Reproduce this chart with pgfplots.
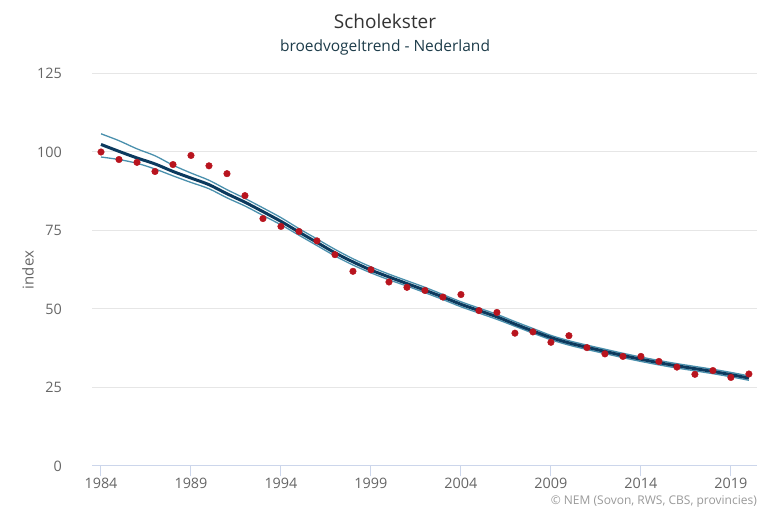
\documentclass[border=0pt]{standalone}
\usepackage{fontspec}
\setmainfont{Open Sans}
\usepackage{pgfplots}
\usepackage{pgfplotstable}
\pgfplotsset{compat=1.18}
\definecolor{pointred}{HTML}{B8141E}
\definecolor{trendblue}{HTML}{0C3A5E}
\definecolor{cicol}{HTML}{4A90AD}
\definecolor{gridgray}{HTML}{E6E6E6}
\definecolor{axiscol}{HTML}{CCD6EB}
\definecolor{labgray}{HTML}{666666}
\definecolor{credgray}{HTML}{999999}
\definecolor{subcol}{HTML}{1D3C4A}
\definecolor{titlecol}{HTML}{333333}

\pgfplotstableread{
year idx
1984 100.0
1985 97.6
1986 96.7
1987 93.8
1988 96.0
1989 98.9
1990 95.6
1991 93.1
1992 86.1
1993 78.8
1994 76.3
1995 74.7
1996 71.7
1997 67.3
1998 62.0
1999 62.5
2000 58.6
2001 56.9
2002 55.9
2003 53.8
2004 54.6
2005 49.5
2006 48.9
2007 42.3
2008 42.7
2009 39.4
2010 41.5
2011 37.7
2012 35.7
2013 34.9
2014 34.9
2015 33.3
2016 31.5
2017 29.2
2018 30.4
2019 28.2
2020 29.3
}\points

\pgfplotstableread{
year trend upper lower
1984 102.4 105.8 98.4
1985 100.2 103.6 97.6
1986 98.1 101.0 96.4
1987 96.2 98.8 94.6
1988 93.8 95.8 92.4
1989 91.7 93.3 90.3
1990 89.6 91.0 88.3
1991 86.7 88.0 85.4
1992 84.0 85.2 82.8
1993 81.0 82.2 79.8
1994 77.9 79.1 76.8
1995 74.5 75.6 73.5
1996 71.2 72.3 70.2
1997 67.9 69.0 66.9
1998 65.0 66.0 64.0
1999 62.4 63.4 61.5
2000 60.2 61.1 59.3
2001 58.1 59.0 57.3
2002 56.0 56.9 55.2
2003 53.8 54.6 53.0
2004 51.5 52.3 50.7
2005 49.5 50.3 48.7
2006 47.5 48.3 46.7
2007 45.2 46.0 44.5
2008 43.0 43.8 42.3
2009 40.9 41.6 40.2
2010 39.2 39.9 38.5
2011 37.8 38.5 37.1
2012 36.5 37.2 35.8
2013 35.2 35.9 34.5
2014 34.0 34.7 33.3
2015 32.9 33.6 32.2
2016 31.9 32.6 31.2
2017 31.0 31.7 30.3
2018 30.1 30.8 29.4
2019 29.1 29.8 28.4
2020 28.0 28.7 27.3
}\trend

\begin{document}
\begin{tikzpicture}[x=1pt,y=1pt]
\useasboundingbox (0,0) rectangle (770,513);
\begin{axis}[
  at={(92pt,47pt)}, anchor=south west,
  scale only axis,
  width=665pt, height=392.5pt,
  xmin=1983.5, xmax=2020.45,
  ymin=0, ymax=125,
  xtick={1984,1989,...,2019},
  ytick={0,25,...,125},
  axis x line*=bottom,
  axis y line*=left,
  x axis line style={draw=axiscol, line width=1pt, -},
  y axis line style={draw=none},
  ymajorgrids,
  grid style={draw=gridgray, line width=1pt},
  tick align=outside,
  major tick length=10pt,
  xtick style={draw=axiscol, line width=1pt},
  ytick style={draw=none},
  /pgf/number format/assume math mode=true,
  x tick label style={/pgf/number format/1000 sep=, font=\fontsize{14.4}{16}\selectfont, text=labgray, anchor=north, inner sep=0pt, yshift=-2pt},
  y tick label style={font=\fontsize{14.4}{16}\selectfont, text=labgray, anchor=east, inner sep=0pt, xshift=-20pt},
  clip=false,
]
\addplot[only marks, mark=*, mark size=3.3pt, color=pointred, mark options={draw=pointred, fill=pointred}] table[x=year, y=idx] {\points};
\addplot[cicol, line width=1.3pt, smooth, tension=0.5] table[x=year, y=upper] {\trend};
\addplot[cicol, line width=1.3pt, smooth, tension=0.5] table[x=year, y=lower] {\trend};
\addplot[trendblue, line width=3pt, smooth, tension=0.5] table[x=year, y=trend] {\trend};
\end{axis}
\node[text=titlecol, font=\fontsize{19}{22}\selectfont] at (385,492) {Scholekster};
\node[text=subcol, font=\fontsize{15.5}{18}\selectfont] at (385,466) {broedvogeltrend - Nederland};
\node[text=labgray, font=\fontsize{15}{18}\selectfont, rotate=90] at (28,243) {index};
\node[text=credgray, font=\fontsize{12}{14}\selectfont, anchor=east, inner sep=0pt] at (757,11) {© NEM (Sovon, RWS, CBS, provincies)};
\end{tikzpicture}
\end{document}
